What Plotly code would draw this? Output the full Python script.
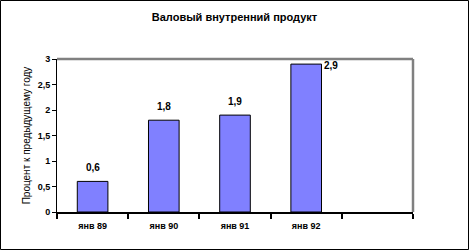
import plotly.graph_objects as go

categories = ["янв 89", "янв 90", "янв 91", "янв 92", " "]
values = [0.6, 1.8, 1.9, 2.9]
y_ticks = [0, 0.5, 1, 1.5, 2, 2.5, 3]
y_tick_labels = ["0", "0,5", "1", "1,5", "2", "2,5", "3"]
title = "Валовый внутренний продукт"
y_title = "Процент к предыдущему году"

FONT = "Liberation Sans, Arial, sans-serif"

fig = go.Figure()
fig.add_trace(go.Bar(
    x=categories[:len(values)], y=values,
    width=0.43,
    marker=dict(color="#8080FF", line=dict(color="black", width=1)),
    hoverinfo="skip",
))

# value labels
for i, (c, v) in enumerate(zip(categories, values)):
    txt = f"{v:.1f}".replace(".", ",")
    if v > 2.7:
        fig.add_annotation(x=c, y=v, text=f"<b>{txt}</b>", showarrow=False,
                           xanchor="left", yanchor="top", xshift=16, yshift=6,
                           font=dict(family=FONT, size=10, color="black"))
    else:
        fig.add_annotation(x=c, y=v, text=f"<b>{txt}</b>", showarrow=False,
                           xanchor="center", yanchor="bottom", yshift=6,
                           font=dict(family=FONT, size=10, color="black"))

fig.update_layout(
    width=469, height=250,
    margin=dict(l=57, r=56, t=59, b=38),
    paper_bgcolor="white", plot_bgcolor="white",
    showlegend=False,
    separators=", ",
    title=dict(text=f"<b>{title}</b>", x=0.5, xanchor="center", y=0.93, yanchor="middle",
               font=dict(family=FONT, size=11, color="black")),
    xaxis=dict(
        type="category", categoryorder="array", categoryarray=categories,
        range=[-0.5, len(categories) - 0.5],
        tickson="boundaries", ticks="outside", ticklen=5, tickcolor="black", tickwidth=1.5,
        ticklabelstandoff=4,
        showline=True, linecolor="black", linewidth=1.5,
        showgrid=False, zeroline=False,
        tickfont=dict(family=FONT, size=9, color="black"),
        tickvals=categories, ticktext=[f"<b>{c}</b>" for c in categories],
    ),
    yaxis=dict(
        range=[0, 3], tickvals=y_ticks, ticktext=[f"<b>{t}</b>" for t in y_tick_labels],
        ticks="outside", ticklen=4, tickcolor="black", tickwidth=1,
        showline=True, linecolor="black", linewidth=1,
        showgrid=False, zeroline=False,
        tickfont=dict(family=FONT, size=9, color="black"),
        title=dict(text=y_title, font=dict(family=FONT, size=10, color="black"), standoff=5),
    ),
    shapes=[
        dict(type="line", xref="paper", yref="paper", x0=0, x1=1, y0=1, y1=1,
             line=dict(color="#808080", width=2.5)),
        dict(type="line", xref="paper", yref="paper", x0=1, x1=1, y0=0, y1=1,
             line=dict(color="#808080", width=2.5)),
        dict(type="rect", xref="paper", yref="paper",
             x0=-56.5 / 356, x1=(356 + 55.5) / 356,
             y0=-37.5 / 153, y1=(153 + 58.5) / 153,
             line=dict(color="black", width=1), fillcolor="rgba(0,0,0,0)"),
    ],
)

fig.write_html("out.html")
